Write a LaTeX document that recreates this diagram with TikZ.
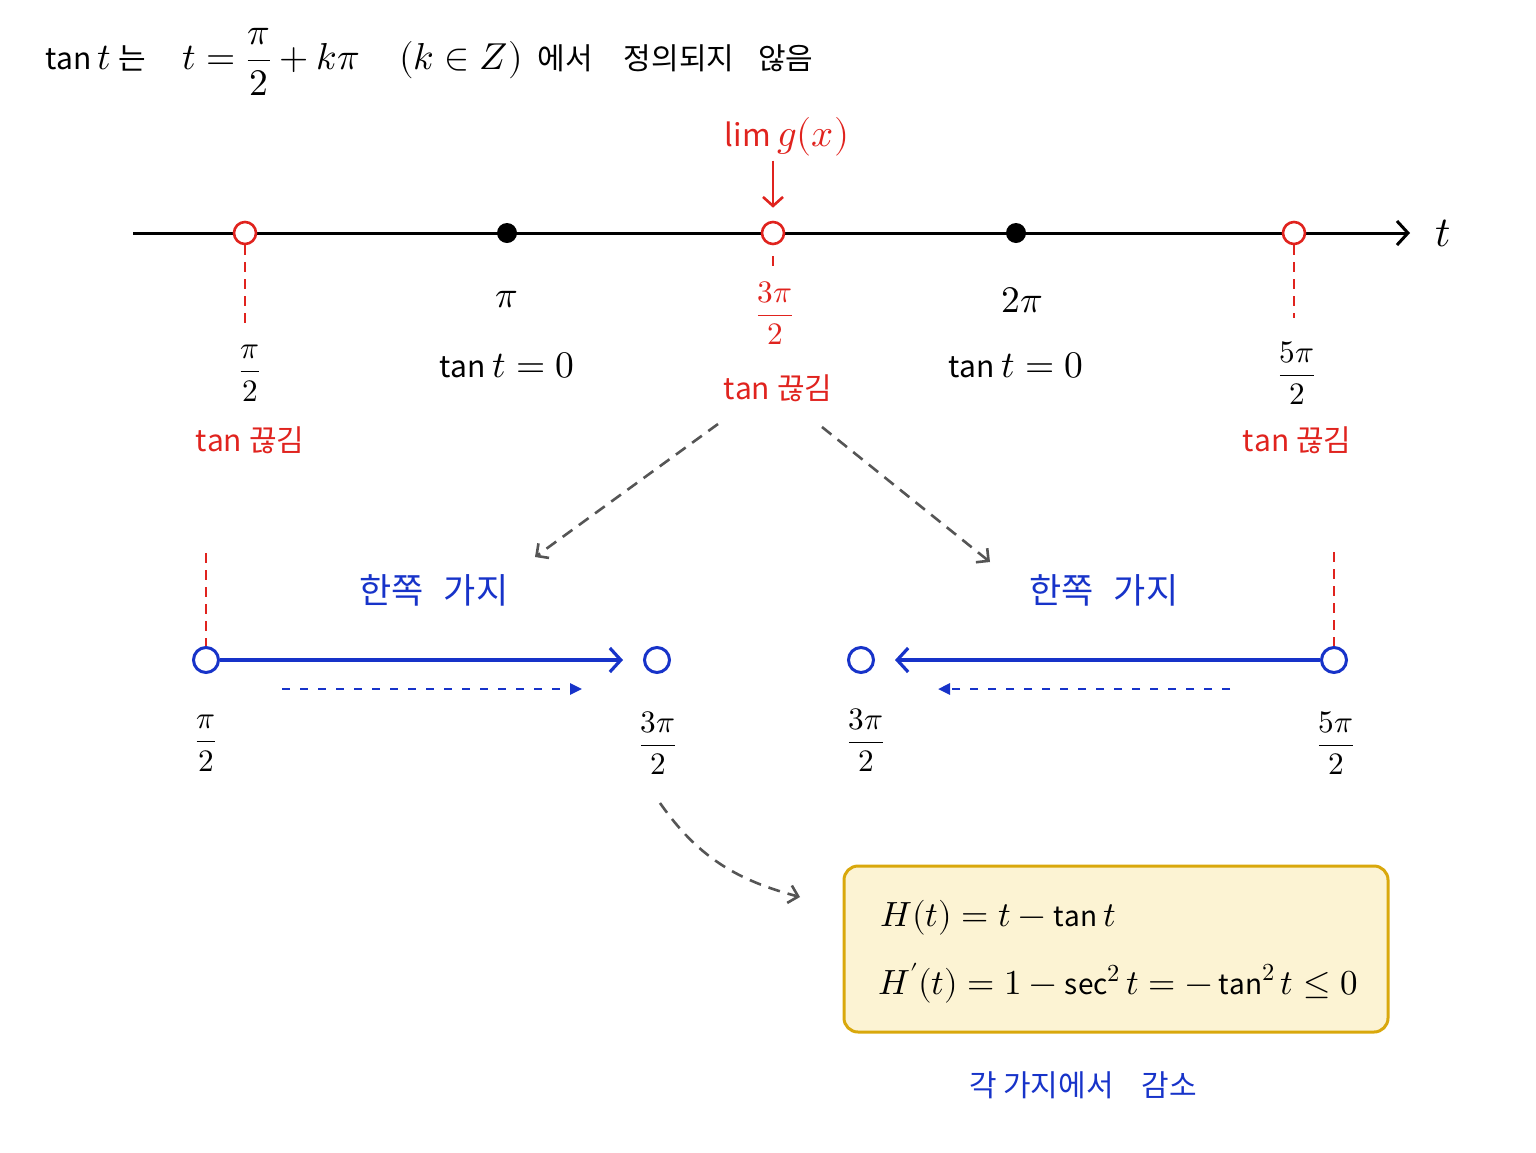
\documentclass[tikz,border=0pt]{standalone}
\usepackage{amsmath}
\usepackage{fontspec}
\usepackage{unicode-math}
\setmainfont{Noto Sans CJK KR}
\setmathfont{Latin Modern Math}[Scale=1.25]
\usetikzlibrary{arrows.meta}
\definecolor{cutred}{HTML}{E0231E}
\definecolor{branchblue}{HTML}{1733C9}
\definecolor{hintgray}{HTML}{555555}
\definecolor{boxfill}{HTML}{FCF3D3}
\definecolor{boxline}{HTML}{D9A80C}
\tikzset{
	txt/.style = {
		inner sep=0pt,
		font=\fontsize{30}{36}\selectfont
	},
	txt_frac/.style = {
		txt,
		font=\fontsize{25}{30}\selectfont
	},
	txt_r/.style = {
		txt,
		text=cutred
	},
	txt_b/.style = {
		txt,
		text=branchblue,
		font=\fontsize{35}{40}\selectfont
	},
	pt_open_r/.style = {
		circle,
		inner sep=0pt,
		minimum size=22pt,
		draw=cutred,
		fill=white,
		line width=2.6pt
	},
	pt_dot/.style = {
		circle,
		inner sep=0pt,
		minimum size=20pt,
		fill=black
	},
	pt_open_b/.style = {
		circle,
		inner sep=0pt,
		minimum size=25pt,
		draw=branchblue,
		fill=white,
		line width=3pt
	},
	cut_line/.style = {
		draw=cutred,
		line width=2.4pt,
		dash pattern=on 10pt off 7pt
	},
	hint_arrow/.style = {
		draw=hintgray,
		line width=2.6pt,
		dash pattern=on 12pt off 8pt,
		-{Straight Barb[length=9pt,width=18pt,line width=2.6pt]}
	},
	branch_arrow/.style = {
		draw=branchblue,
		line width=3.2pt,
		-{Straight Barb[length=11pt,width=24pt,line width=3.2pt]}
	},
	flow_arrow/.style = {
		draw=branchblue,
		line width=2.6pt,
		dash pattern=on 8pt off 10pt,
		-{Triangle[length=12pt,width=11pt]}
	},
	hbox/.style = {
		draw=boxline,
		fill=boxfill,
		line width=3pt,
		rounded corners=14pt,
		minimum width=544pt,
		minimum height=166pt
	}
}

\begin{document}
\begin{tikzpicture}[x=1pt,y=-1pt]
\useasboundingbox (0,0) rectangle (1536,1152);
% title
\node [txt, anchor=west] (title) at (45,62) {$\tan t$ 는\hspace{37pt}$t=\dfrac{\pi}{2}+k\pi$\hspace{40pt}$(k\in Z)$\hspace{15pt}에서\hspace{31pt}정의되지\hspace{24pt}않음};
% main axis
\coordinate (ax_s) at (133,233);
\coordinate (ax_e) at (1410,233);
\draw [line width=3pt, -{Straight Barb[length=11pt,width=24pt,line width=3pt]}] (ax_s) -- (ax_e);
\node [txt, font=\fontsize{34}{40}\selectfont] (t_lab) at (1443,233) {$t$};
\node [pt_open_r] (p_a) at (245,233) {};
\node [pt_dot] (p_b) at (507,233) {};
\node [pt_open_r] (p_c) at (773,233) {};
\node [pt_dot] (p_d) at (1016,233) {};
\node [pt_open_r] (p_e) at (1294,233) {};
\coordinate (p_a_end) at (245,330);
\coordinate (p_c_end) at (773,266);
\coordinate (p_e_end) at (1294,318);
\draw [cut_line] (p_a) -- (p_a_end);
\draw [draw=cutred, line width=2.4pt, shorten <=11pt] (p_c) -- (p_c_end);
\draw [cut_line] (p_e) -- (p_e_end);
% limit marker
\node [txt_r, font=\fontsize{31}{38}\selectfont] (lim) at (787,137) {$\lim g(x)$};
\draw [draw=cutred, line width=2.6pt, shorten <=4pt, shorten >=13pt, -{Straight Barb[length=9pt,width=20pt,line width=2.6pt]}] (lim.south -| p_c) -- (p_c.north);
% labels on the axis
\node [txt_frac] (l_a) at (250,373) {$\dfrac{\pi}{2}$};
\node [txt_r] (c_a) at (250,440) {$\tan$ 끊김};
\node [txt] (l_b) at (507,300) {$\pi$};
\node [txt] (z_b) at (507,365) {$\tan t = 0$};
\node [txt_frac, text=cutred] (l_c) at (775,313) {$\dfrac{3\pi}{2}$};
\node [txt_r] (c_c) at (778,388) {$\tan$ 끊김};
\node [txt] (l_d) at (1022,300) {$2\pi$};
\node [txt] (z_d) at (1016,365) {$\tan t = 0$};
\node [txt_frac] (l_e) at (1297,373) {$\dfrac{5\pi}{2}$};
\node [txt_r] (c_e) at (1297,440) {$\tan$ 끊김};
% split into the two branches
\coordinate (h_l_s) at (718,424);
\coordinate (h_l_e) at (535,557);
\coordinate (h_r_s) at (822,427);
\coordinate (h_r_e) at (990,562);
\draw [hint_arrow] (h_l_s) -- (h_l_e);
\draw [hint_arrow] (h_r_s) -- (h_r_e);
% left branch
\node [txt_b] (br_l) at (434,590) {한쪽\hspace{20pt}가지};
\node [pt_open_b] (b_l1) at (206,660) {};
\node [pt_open_b] (b_l2) at (657,660) {};
\coordinate (b_l_top) at (206,553);
\draw [cut_line] (b_l_top) -- (b_l1);
\draw [branch_arrow, shorten >=20pt] (b_l1) -- (b_l2);
\coordinate (f_l_s) at (282,689);
\coordinate (f_l_e) at (582,689);
\draw [flow_arrow] (f_l_s) -- (f_l_e);
\node [txt_frac] (bl_a) at (206,743) {$\dfrac{\pi}{2}$};
\node [txt_frac] (bl_b) at (658,743) {$\dfrac{3\pi}{2}$};
% right branch
\node [txt_b] (br_r) at (1104,590) {한쪽\hspace{20pt}가지};
\node [pt_open_b] (b_r1) at (861,660) {};
\node [pt_open_b] (b_r2) at (1334,660) {};
\coordinate (b_r_top) at (1334,552);
\draw [cut_line] (b_r_top) -- (b_r2);
\draw [branch_arrow, shorten >=20pt] (b_r2) -- (b_r1);
\coordinate (f_r_s) at (1230,689);
\coordinate (f_r_e) at (938,689);
\draw [flow_arrow] (f_r_s) -- (f_r_e);
\node [txt_frac] (br_a) at (866,740) {$\dfrac{3\pi}{2}$};
\node [txt_frac] (br_b) at (1336,743) {$\dfrac{5\pi}{2}$};
% derivative box
\coordinate (h_b_s) at (660,803);
\coordinate (h_b_e) at (800,897);
\draw [hint_arrow] (h_b_s) to [out=-55, in=165] (h_b_e);
\node [hbox] (box) at (1116,949) {};
\node [txt, font=\fontsize{28}{34}\selectfont, anchor=west] (eq_1) at (880,918) {$H(t) = t - \tan t$};
\node [txt, font=\fontsize{28}{34}\selectfont, anchor=west] (eq_2) at (878,983) {$H'(t) = 1 - \sec^2 t = -\tan^2 t \le 0$};
\node [txt_b, font=\fontsize{30}{36}\selectfont] (dec) at (1083,1085) {각\ 가지에서\hspace{28pt}감소};
\end{tikzpicture}
\end{document}
